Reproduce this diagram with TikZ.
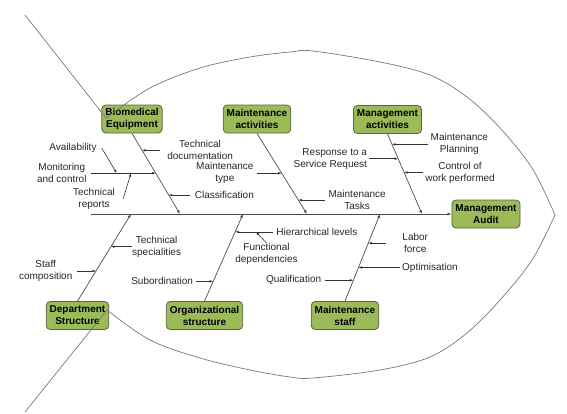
\documentclass[tikz,border=0pt]{standalone}
\usepackage{fontspec}
\setmainfont{Liberation Sans}
\usetikzlibrary{arrows.meta, positioning}
\definecolor{causefill}{RGB}{155,187,89}
\definecolor{causeline}{RGB}{90,100,70}
\definecolor{bodyline}{RGB}{120,120,120}

\begin{document}
\begin{tikzpicture}[
    x=1pt, y=-1pt,
    cause/.style={draw=causeline, fill=causefill, rounded corners=4pt, line width=0.8pt,
        font=\fontsize{10}{12}\selectfont\bfseries, align=center,
        inner xsep=3.5pt, inner ysep=1pt, minimum height=28pt},
    lbl/.style={font=\fontsize{10}{12}\selectfont, align=center, inner sep=0pt, text=black!85},
    bone/.style={draw=black!70, line width=0.7pt, -{Latex[length=4pt, width=3pt]}},
    arr/.style={draw=black!80, line width=0.6pt, -{Latex[length=3.5pt, width=2.5pt]}},
    body/.style={draw=bodyline, line width=0.7pt}
]
    \useasboundingbox (0,0) rectangle (567,413);

    % Main causes
    \node[cause] (bio) at (132,119) {Biomedical\\Equipment};
    \node[cause] (mact) at (257,119) {Maintenance\\activities};
    \node[cause] (mgmt) at (387.5,119.5) {Management\\activities};
    \node[cause] (audit) at (486,214) {Management\\Audit};
    \node[cause] (dept) at (77.5,315.5) {Department\\Structure};
    \node[cause] (org) at (204.5,315.5) {Organizational\\structure};
    \node[cause] (staff) at (345,315.5) {Maintenance\\staff};

    % Spine
    \coordinate (tail) at (91,214);
    \coordinate (sdept) at (131,214);
    \coordinate (sbio) at (180,214);
    \coordinate (sorg) at (243,214);
    \coordinate (smact) at (307,214);
    \coordinate (sstaff) at (380,214);
    \coordinate (smgmt) at (422,214);
    \draw[bone] (tail) -- (audit.west);

    % Biomedical Equipment
    \draw[bone] (bio.south) -- (sbio) coordinate[pos=0.21] (bio1) coordinate[pos=0.494] (bio2) coordinate[pos=0.765] (bio3);
    \node[lbl, right=25pt of bio1] (tdoc) {Technical\\documentation};
    \draw[arr] ([xshift=-7pt]tdoc.west) -- (bio1);
    \node[lbl, left=69pt of bio2] (mon) {Monitoring\\and control};
    \draw[arr] ([xshift=4pt]mon.east) -- (bio2) coordinate[pos=0.40] (mon1) coordinate[pos=0.62] (mon2);
    \node[lbl] (avail) at (73,148) {Availability};
    \draw[arr] ([xshift=5pt]avail.east) -- (mon1);
    \node[lbl] (trep) at (94,199) {Technical\\reports};
    \draw[arr] ([xshift=8pt]trep.east) -- (mon2);
    \node[lbl, right=26pt of bio3] (cls) {Classification};
    \draw[arr] ([xshift=-5pt]cls.west) -- (bio3);

    % Maintenance activities
    \draw[bone] (mact.south) -- (smact) coordinate[pos=0.494] (mact1) coordinate[pos=0.827] (mact2);
    \node[lbl, left=28pt of mact1] (mtype) {Maintenance\\type};
    \draw[arr] ([xshift=3.5pt]mtype.east) -- (mact1);
    \node[lbl, right=30pt of mact2] (mtask) {Maintenance\\Tasks};
    \draw[arr] ([xshift=-3.5pt]mtask.west) -- (mact2);

    % Management activities
    \draw[bone] (mgmt.south) -- (smgmt) coordinate[pos=0.13] (mgmt1) coordinate[pos=0.309] (mgmt2) coordinate[pos=0.481] (mgmt3);
    \node[lbl, right=38.5pt of mgmt1] (mplan) {Maintenance\\Planning};
    \draw[arr] ([xshift=-2.5pt]mplan.west) -- (mgmt1);
    \node[lbl, align=right, left=31pt of mgmt2] (resp) {Response to a\\Service Request};
    \draw[arr] ([xshift=2pt]resp.east) -- (mgmt2);
    \node[lbl, right=21pt of mgmt3] (ctrl) {Control of\\work performed};
    \draw[arr] ([xshift=-2pt]ctrl.west) -- (mgmt3);

    % Department Structure
    \draw[bone] (dept.north) -- (sdept) coordinate[pos=0.347] (dept1) coordinate[pos=0.625] (dept2);
    \node[lbl, left=23.5pt of dept1] (scomp) {Staff\\composition};
    \draw[arr] ([xshift=4.5pt]scomp.east) -- (dept1);
    \node[lbl, right=21pt of dept2] (tspec) {Technical\\specialities};
    \draw[arr] (tspec.west) -- (dept2);

    % Organizational structure
    \draw[bone] (org.north) -- (sorg) coordinate[pos=0.227] (org1) coordinate[pos=0.795] (org2);
    \node[lbl, left=20pt of org1] (subord) {Subordination};
    \draw[arr] ([xshift=3pt]subord.east) -- (org1);
    \node[lbl, right=41pt of org2] (hier) {Hierarchical levels};
    \draw[arr] ([xshift=-3pt]hier.west) -- (org2) coordinate[pos=0.45] (hier1);
    \node[lbl] (func) at (266.5,254) {Functional\\dependencies};
    \draw[arr] (func.north) -- (hier1);

    % Maintenance staff
    \draw[bone] (staff.north) -- (sstaff) coordinate[pos=0.239] (staff1) coordinate[pos=0.386] (staff2) coordinate[pos=0.665] (staff3);
    \node[lbl, left=32pt of staff1] (qual) {Qualification};
    \draw[arr] ([xshift=3.5pt]qual.east) -- (staff1);
    \node[lbl, right=43.5pt of staff2] (optim) {Optimisation};
    \draw[arr] ([xshift=-2pt]optim.west) -- (staff2);
    \node[lbl, right=34pt of staff3] (labor) {Labor\\force};
    \draw[arr] ([xshift=-16pt]labor.west) -- (staff3);

    % Fish outline
    \coordinate (head) at (555,215);
    \draw[body] (25,15) -- (106,118);
    \draw[body] (25,412) -- (107,310);
    \draw[body] plot[smooth, tension=0.55] coordinates {(106,118) (150,88) (200,68) (250,57) (290,52) (313,51) (380,62) (430,75) (467,97) (500,128) (532,168) (555,215)};
    \draw[body] plot[smooth, tension=0.55] coordinates {(107,310) (150,340) (200,358) (250,370) (290,377) (313,378) (380,370) (430,357) (467,333) (500,300) (532,260) (555,215)};
\end{tikzpicture}
\end{document}
